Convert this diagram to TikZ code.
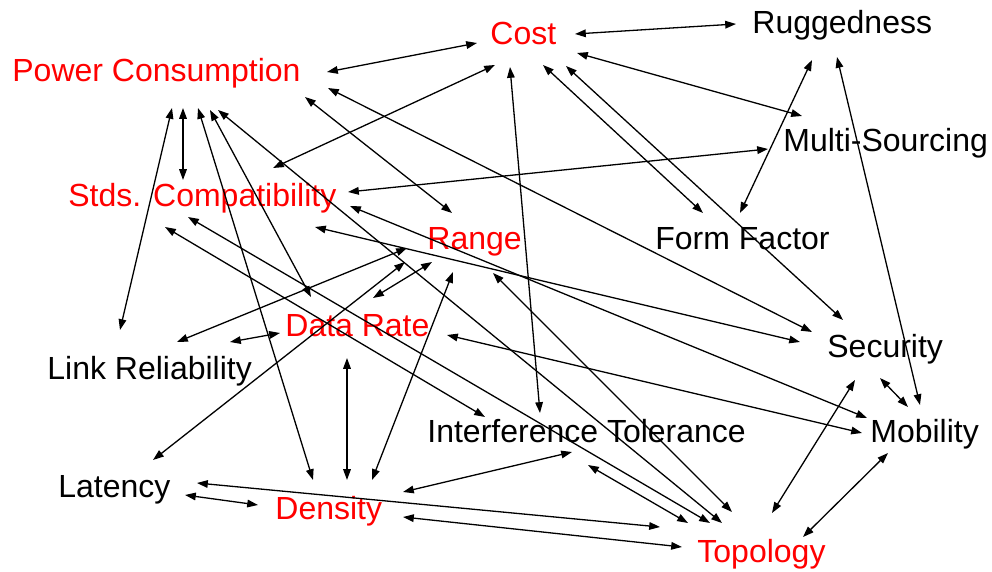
\documentclass[tikz,border=0pt]{standalone}
\usepackage{fontspec}
\setmainfont{Liberation Sans}
\usetikzlibrary{arrows.meta}
\tikzset{
  lbl/.style={anchor=base west, inner sep=0pt, font=\fontsize{16}{19}\selectfont, text=black},
  redlbl/.style={lbl, text=red},
  link/.style={line width=0.65pt, {Triangle[length=5.4pt,width=3.8pt]}-{Triangle[length=5.4pt,width=3.8pt]}}
}
\newcommand{\lk}[6]{\draw[link] ([shift={(#2,#3)}]#1.base west) -- ([shift={(#5,#6)}]#4.base west);}
\begin{document}
\begin{tikzpicture}[x=0.5pt,y=-0.5pt]
\useasboundingbox (0,0) rectangle (992,572);
% labels
\node[redlbl] (cost) at (490,45) {Cost};
\node[lbl] (rug) at (752,34) {Ruggedness};
\node[redlbl] (pc) at (12,82) {Power Consumption};
\node[lbl] (ms) at (783,152) {Multi-Sourcing};
\node[redlbl] (stds) at (68,207) {Stds. Compatibility};
\node[redlbl] (range) at (427,250) {Range};
\node[lbl] (ff) at (655,250) {Form Factor};
\node[redlbl] (dr) at (285,337) {Data Rate};
\node[lbl] (sec) at (827,358) {Security};
\node[lbl] (lr) at (47,380) {Link Reliability};
\node[lbl] (it) at (427,443) {Interference Tolerance};
\node[lbl] (mob) at (870,443) {Mobility};
\node[lbl] (lat) at (58,498) {Latency};
\node[redlbl] (den) at (275,520) {Density};
\node[redlbl] (top) at (697,563) {Topology};
% connectors
\lk{cost}{85}{-11}{rug}{-16}{-10}
\lk{cost}{-13}{-2}{pc}{315}{-10}
\lk{cost}{87}{8}{ms}{19}{-36}
\lk{cost}{53}{20}{ff}{48}{-37}
\lk{cost}{76}{21}{sec}{16}{-38}
\lk{cost}{5}{20}{stds}{205}{-39}
\lk{cost}{20}{22}{it}{113}{-30}
\lk{pc}{293}{15}{range}{25}{-37}
\lk{pc}{316}{6}{sec}{-15}{-26}
\lk{pc}{171}{26}{stds}{115}{-27}
\lk{pc}{160}{26}{lr}{73}{-50}
\lk{pc}{186}{26}{den}{38}{-40}
\lk{pc}{198}{28}{dr}{26}{-40}
\lk{pc}{206}{28}{top}{25}{-40}
\lk{stds}{280}{-15}{ms}{-15}{-3}
\lk{stds}{282}{-1}{mob}{-3}{-25}
\lk{stds}{247}{20}{sec}{-27}{-16}
\lk{stds}{97}{20}{it}{58}{-26}
\lk{stds}{120}{10}{top}{13}{-40}
\lk{range}{66}{23}{top}{35}{-51}
\lk{range}{26}{22}{den}{97}{-40}
\lk{range}{-22}{12}{lat}{95}{-38}
\lk{range}{5}{12}{dr}{88}{-39}
\lk{range}{-20}{-2}{lr}{130}{-38}
\lk{dr}{162}{-2}{mob}{-8}{-10}
\lk{dr}{-5}{-4}{lr}{183}{-38}
\lk{dr}{62}{21}{den}{72}{-40}
\lk{it}{161}{22}{top}{-9}{-40}
\lk{it}{145}{9}{den}{128}{-28}
\lk{den}{128}{-3}{top}{-15}{-16}
\lk{lat}{139}{-15}{top}{-37}{-36}
\lk{lat}{127}{-3}{den}{-17}{-15}
\lk{sec}{53}{20}{mob}{38}{-36}
\lk{sec}{28}{22}{top}{75}{-50}
\lk{mob}{18}{10}{top}{106}{-26}
\lk{rug}{60}{26}{ff}{85}{-37}
\lk{rug}{85}{23}{mob}{50}{-38}
\end{tikzpicture}
\end{document}
